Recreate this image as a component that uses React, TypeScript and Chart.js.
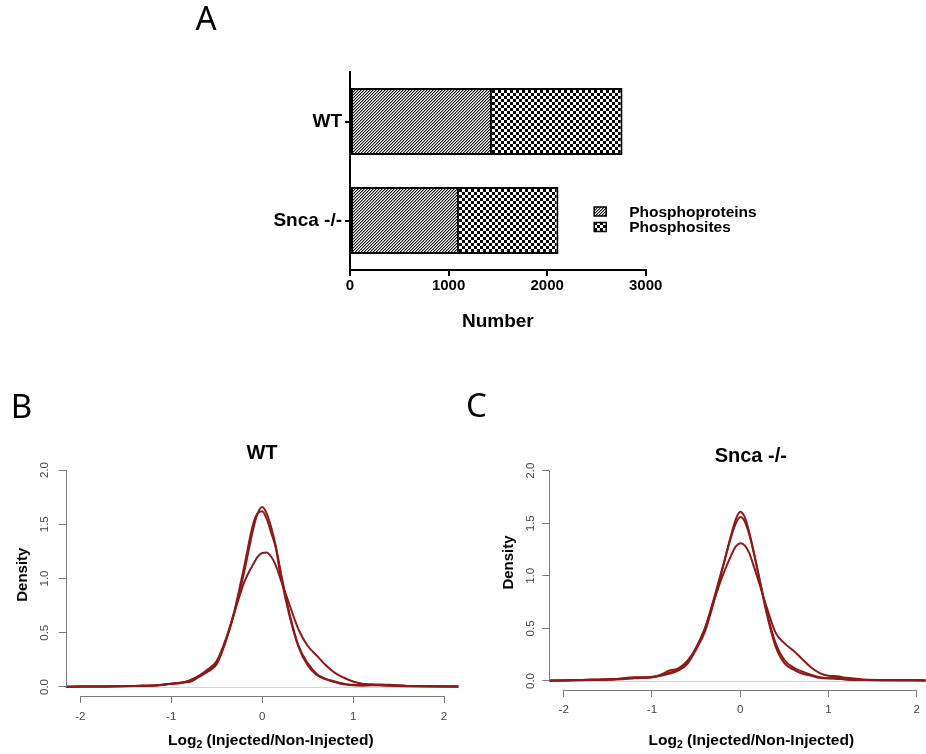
import React, { useEffect, useRef } from 'react';
import { Chart, registerables } from 'chart.js';
Chart.register(...registerables);

// ---------- Panel A data ----------
const GROUPS = ['WT', 'Snca -/-'];
const PHOSPHOPROTEINS = [1440, 1105];
const PHOSPHOSITES = [2765, 2115];
const BAR_X_TICKS = [0, 1000, 2000, 3000];
const LEGEND_LABELS = ['Phosphoproteins', 'Phosphosites'];

// ---------- Panel B (WT) density data ----------
const WT_X = [-2.16, -2.0, -1.8, -1.6, -1.4, -1.2, -1.1, -1.0, -0.9, -0.8, -0.7, -0.6, -0.5, -0.4, -0.3, -0.2, -0.1, -0.05, 0, 0.05, 0.1, 0.15, 0.2, 0.3, 0.4, 0.5, 0.6, 0.7, 0.8, 0.9, 1.0, 1.1, 1.2, 1.4, 1.6, 1.8, 2.0, 2.16];
const WT_REP1 = [0.003, 0.004, 0.004, 0.006, 0.01, 0.012, 0.018, 0.03, 0.04, 0.045, 0.09, 0.14, 0.21, 0.42, 0.7, 1.05, 1.45, 1.6, 1.66, 1.6, 1.47, 1.3, 1.08, 0.68, 0.38, 0.22, 0.12, 0.075, 0.05, 0.03, 0.015, 0.012, 0.015, 0.012, 0.008, 0.006, 0.005, 0.004];
const WT_REP2 = [0.003, 0.004, 0.005, 0.006, 0.01, 0.013, 0.02, 0.03, 0.04, 0.055, 0.1, 0.15, 0.22, 0.43, 0.72, 1.1, 1.5, 1.6, 1.62, 1.55, 1.42, 1.28, 1.04, 0.66, 0.37, 0.2, 0.11, 0.07, 0.045, 0.025, 0.02, 0.018, 0.02, 0.014, 0.009, 0.007, 0.005, 0.004];
const WT_REP3 = [0.003, 0.004, 0.005, 0.006, 0.01, 0.013, 0.02, 0.03, 0.035, 0.06, 0.1, 0.16, 0.24, 0.44, 0.7, 0.96, 1.13, 1.2, 1.235, 1.24, 1.2, 1.12, 1.0, 0.76, 0.53, 0.38, 0.29, 0.2, 0.13, 0.085, 0.05, 0.03, 0.025, 0.02, 0.01, 0.008, 0.006, 0.005];

// ---------- Panel C (Snca -/-) density data ----------
const KO_X = [-2.17, -2.0, -1.8, -1.6, -1.4, -1.2, -1.1, -1.0, -0.9, -0.8, -0.7, -0.6, -0.5, -0.4, -0.3, -0.2, -0.1, -0.05, 0, 0.05, 0.1, 0.15, 0.2, 0.3, 0.4, 0.5, 0.6, 0.7, 0.8, 0.9, 1.0, 1.1, 1.2, 1.4, 1.6, 1.8, 2.0, 2.2];
const KO_REP1 = [0.004, 0.005, 0.01, 0.012, 0.018, 0.03, 0.03, 0.035, 0.05, 0.07, 0.1, 0.16, 0.3, 0.47, 0.75, 1.07, 1.4, 1.54, 1.61, 1.56, 1.42, 1.24, 1.04, 0.64, 0.33, 0.17, 0.11, 0.07, 0.05, 0.03, 0.025, 0.03, 0.015, 0.01, 0.008, 0.008, 0.006, 0.005];
const KO_REP2 = [0.003, 0.004, 0.008, 0.01, 0.015, 0.025, 0.03, 0.035, 0.06, 0.1, 0.12, 0.19, 0.31, 0.5, 0.78, 1.08, 1.38, 1.5, 1.56, 1.52, 1.4, 1.23, 1.04, 0.66, 0.36, 0.2, 0.13, 0.09, 0.06, 0.035, 0.025, 0.02, 0.015, 0.01, 0.008, 0.006, 0.006, 0.005];
const KO_REP3 = [0.005, 0.006, 0.01, 0.015, 0.02, 0.035, 0.035, 0.04, 0.055, 0.08, 0.11, 0.18, 0.32, 0.5, 0.76, 1.0, 1.2, 1.28, 1.31, 1.29, 1.22, 1.1, 0.97, 0.7, 0.46, 0.36, 0.29, 0.21, 0.13, 0.075, 0.05, 0.045, 0.03, 0.015, 0.01, 0.008, 0.006, 0.005];

const DENS_X_TICKS = [-2, -1, 0, 1, 2];
const DENS_Y_TICKS = [0, 0.5, 1.0, 1.5, 2.0];

const SANS = '"Liberation Sans", Arial, Helvetica, sans-serif';
const LETTER_FONT = '400 33px "Noto Sans", "Open Sans", sans-serif';
const CURVE_COLOR = '#8B1A1A';
const AXIS_GRAY = '#7a7a7a';
const TICK_TEXT = '#444';

function makeHatch(ctx: CanvasRenderingContext2D) {
  const c = document.createElement('canvas');
  c.width = 3; c.height = 3;
  const g = c.getContext('2d')!;
  g.fillStyle = '#fff'; g.fillRect(0, 0, 3, 3);
  for (let y = 0; y < 3; y++) for (let x = 0; x < 3; x++) {
    const k = (x + y) % 3;
    if (k === 0) { g.fillStyle = '#1a1a1a'; g.fillRect(x, y, 1, 1); }
    else if (k === 1) { g.fillStyle = '#999'; g.fillRect(x, y, 1, 1); }
  }
  return ctx.createPattern(c, 'repeat')!;
}

function makeChecker(ctx: CanvasRenderingContext2D) {
  const c = document.createElement('canvas');
  c.width = 6; c.height = 6;
  const g = c.getContext('2d')!;
  g.fillStyle = '#fff'; g.fillRect(0, 0, 6, 6);
  g.fillStyle = '#000';
  g.fillRect(0, 0, 3, 3); g.fillRect(3, 3, 3, 3);
  return ctx.createPattern(c, 'repeat')!;
}

function drawRotated(ctx: CanvasRenderingContext2D, text: string, x: number, y: number, font: string) {
  ctx.save();
  ctx.translate(x, y);
  ctx.rotate(-Math.PI / 2);
  ctx.font = font;
  ctx.fillStyle = '#000';
  ctx.textAlign = 'center';
  ctx.textBaseline = 'middle';
  ctx.fillText(text, 0, 0);
  ctx.restore();
}

function drawLog2(ctx: CanvasRenderingContext2D, cx: number, cy: number) {
  const big = `bold 15.5px ${SANS}`;
  const small = `bold 10.5px ${SANS}`;
  const a = 'Log', b = '2', c = ' (Injected/Non-Injected)';
  ctx.save();
  ctx.fillStyle = '#000';
  ctx.textAlign = 'left';
  ctx.textBaseline = 'middle';
  ctx.font = big; const wa = ctx.measureText(a).width; const wc = ctx.measureText(c).width;
  ctx.font = small; const wb = ctx.measureText(b).width;
  let x = cx - (wa + wb + wc) / 2;
  ctx.font = big; ctx.fillText(a, x, cy); x += wa;
  ctx.font = small; ctx.fillText(b, x, cy + 4); x += wb;
  ctx.font = big; ctx.fillText(c, x, cy);
  ctx.restore();
}

function drawText(ctx: CanvasRenderingContext2D, text: string, x: number, y: number, font: string, align: CanvasTextAlign = 'center') {
  ctx.save();
  ctx.font = font;
  ctx.fillStyle = '#000';
  ctx.textAlign = align;
  ctx.textBaseline = 'middle';
  ctx.fillText(text, x, y);
  ctx.restore();
}

function BarPanel() {
  const ref = useRef<HTMLCanvasElement>(null);
  useEffect(() => {
    const canvas = ref.current!;
    const ctx = canvas.getContext('2d')!;
    const hatch = makeHatch(ctx);
    const checker = makeChecker(ctx);
    const fills = [hatch, checker];
    const annot = {
      id: 'annotA',
      afterDraw(chart: any) {
        const c = chart.ctx as CanvasRenderingContext2D;
        const ca = chart.chartArea;
        drawText(c, 'A', 206, 21, LETTER_FONT);
        drawText(c, 'Number', (ca.left + ca.right) / 2, 322, `bold 19px ${SANS}`);
        // legend
        const bx = ca.right - 51.5;
        const rows = [207, 222.5];
        LEGEND_LABELS.forEach((lab, i) => {
          c.save();
          c.fillStyle = fills[i];
          c.fillRect(bx, rows[i], 12, 9);
          c.strokeStyle = '#000';
          c.lineWidth = 1.5;
          c.strokeRect(bx, rows[i], 12, 9);
          c.restore();
          drawText(c, lab, bx + 35, rows[i] + 5.5, `bold 15.5px ${SANS}`, 'left');
        });
      },
    };
    const chart = new Chart(canvas, {
      type: 'bar',
      data: {
        labels: GROUPS,
        datasets: [
          { label: LEGEND_LABELS[0], data: PHOSPHOPROTEINS, backgroundColor: hatch, borderColor: '#000', borderWidth: 2, borderSkipped: false, barPercentage: 0.675, categoryPercentage: 1, grouped: false } as any,
          { label: LEGEND_LABELS[1], data: PHOSPHOSITES, backgroundColor: checker, borderColor: '#000', borderWidth: 2, borderSkipped: false, barPercentage: 0.675, categoryPercentage: 1, grouped: false } as any,
        ],
      },
      options: {
        indexAxis: 'y',
        responsive: false,
        animation: false,
        events: [],
        layout: { padding: { left: 250, right: 280.3, top: 72, bottom: 0 }, autoPadding: false },
        plugins: { legend: { display: false }, tooltip: { enabled: false }, title: { display: false } },
        scales: {
          x: {
            type: 'linear', min: 0, max: 3000,
            afterBuildTicks: (s: any) => { s.ticks = BAR_X_TICKS.map((v) => ({ value: v })); },
            afterFit: (s: any) => { s.height = 110; },
            grid: { drawOnChartArea: false, drawTicks: true, tickLength: 6, color: '#000', lineWidth: 2 },
            border: { display: true, color: '#000', width: 2 },
            ticks: { font: { family: SANS, size: 15, weight: 'bold' }, color: '#000', padding: 1, maxRotation: 0, callback: (v: any) => String(v) },
          },
          y: {
            type: 'category',
            afterFit: (s: any) => { s.width = 100; },
            grid: { offset: false, drawOnChartArea: false, drawTicks: true, tickLength: 5, color: '#000', lineWidth: 2 },
            border: { display: true, color: '#000', width: 2 },
            ticks: { font: { family: SANS, size: 19, weight: 'bold' }, color: '#000', padding: 3 },
          },
        },
      } as any,
      plugins: [annot],
    });
    return () => chart.destroy();
  }, []);
  return <canvas ref={ref} width={926} height={380} style={{ position: 'absolute', left: 0, top: 0, width: 926, height: 380 }} />;
}

type DensProps = {
  left: number; width: number;
  xs: number[]; series: number[][];
  xMin: number; xMax: number; yMin: number;
  padTop: number; padRight: number; yWidth: number; xHeight: number;
  yTickPad: number; xTickPad: number;
  letter: string; letterX: number; letterY: number;
  title: string; titleX: number; titleY: number;
  yTitleX: number; yTitleY: number;
  xTitleX: number; xTitleY: number;
};

function DensityPanel(p: DensProps) {
  const ref = useRef<HTMLCanvasElement>(null);
  useEffect(() => {
    const canvas = ref.current!;
    const annot = {
      id: 'annotDens',
      beforeDatasetsDraw(chart: any) {
        const c = chart.ctx as CanvasRenderingContext2D;
        const ca = chart.chartArea;
        const y0 = Math.round(chart.scales.y.getPixelForValue(0)) + 0.5;
        c.save();
        c.strokeStyle = '#d4d4d4';
        c.lineWidth = 1;
        c.beginPath(); c.moveTo(ca.left, y0); c.lineTo(ca.right, y0); c.stroke();
        c.restore();
      },
      afterDraw(chart: any) {
        const c = chart.ctx as CanvasRenderingContext2D;
        const ca = chart.chartArea;
        const xs = chart.scales.x, ys = chart.scales.y;
        c.save();
        c.strokeStyle = AXIS_GRAY;
        c.lineWidth = 1;
        const ax = Math.round(ca.left) + 0.5;
        c.beginPath();
        c.moveTo(ax, ys.getPixelForValue(DENS_Y_TICKS[0]));
        c.lineTo(ax, ys.getPixelForValue(DENS_Y_TICKS[DENS_Y_TICKS.length - 1]));
        c.stroke();
        const ay = Math.round(ca.bottom) + 0.5;
        c.beginPath();
        c.moveTo(xs.getPixelForValue(DENS_X_TICKS[0]), ay);
        c.lineTo(xs.getPixelForValue(DENS_X_TICKS[DENS_X_TICKS.length - 1]), ay);
        c.stroke();
        c.restore();
        drawText(c, p.letter, p.letterX, p.letterY, LETTER_FONT);
        drawText(c, p.title, p.titleX, p.titleY, `bold 20px ${SANS}`);
        drawRotated(c, 'Density', p.yTitleX, p.yTitleY, `bold 15px ${SANS}`);
        drawLog2(c, p.xTitleX, p.xTitleY);
      },
    };
    const chart = new Chart(canvas, {
      type: 'line',
      data: {
        datasets: p.series.map((ys, i) => ({
          label: `rep${i + 1}`,
          data: p.xs.map((x, j) => ({ x, y: ys[j] })),
          borderColor: CURVE_COLOR,
          borderWidth: 2,
          pointRadius: 0,
          fill: false,
          cubicInterpolationMode: 'monotone',
        })),
      },
      options: {
        responsive: false,
        animation: false,
        events: [],
        layout: { padding: { left: 0, right: p.padRight, top: p.padTop, bottom: 0 }, autoPadding: false },
        plugins: { legend: { display: false }, tooltip: { enabled: false }, title: { display: false } },
        scales: {
          x: {
            type: 'linear', min: p.xMin, max: p.xMax,
            afterBuildTicks: (s: any) => { s.ticks = DENS_X_TICKS.map((v) => ({ value: v })); },
            afterFit: (s: any) => { s.height = p.xHeight; },
            grid: { drawOnChartArea: false, drawTicks: true, tickLength: 7, color: AXIS_GRAY, lineWidth: 1 },
            border: { display: false },
            ticks: { font: { family: SANS, size: 11.5 }, color: TICK_TEXT, padding: p.xTickPad, maxRotation: 0, callback: (v: any) => String(v) },
          },
          y: {
            type: 'linear', min: p.yMin, max: 2.0,
            afterBuildTicks: (s: any) => { s.ticks = DENS_Y_TICKS.map((v) => ({ value: v })); },
            afterFit: (s: any) => { s.width = p.yWidth; },
            grid: { drawOnChartArea: false, drawTicks: true, tickLength: 7, color: AXIS_GRAY, lineWidth: 1 },
            border: { display: false },
            ticks: { font: { family: SANS, size: 11.5 }, color: TICK_TEXT, padding: p.yTickPad, minRotation: 90, maxRotation: 90, crossAlign: 'center', callback: (v: any) => Number(v).toFixed(1) },
          },
        },
      } as any,
      plugins: [annot],
    });
    return () => chart.destroy();
  }, []);
  return <canvas ref={ref} width={p.width} height={374} style={{ position: 'absolute', left: p.left, top: 380, width: p.width, height: 374 }} />;
}

export default function App() {
  return (
    <div style={{ position: 'absolute', left: 0, top: 0, width: 926, height: 754, overflow: 'hidden', background: '#fff' }}>
      <BarPanel />
      <DensityPanel
        left={0} width={470}
        xs={WT_X} series={[WT_REP1, WT_REP2, WT_REP3]}
        xMin={-2.16} xMax={2.16} yMin={-0.083}
        padTop={90} padRight={11.4} yWidth={65.7} xHeight={58}
        yTickPad={6} xTickPad={7}
        letter="B" letterX={21.5} letterY={28.7}
        title="WT" titleX={262} titleY={73.3}
        yTitleX={22.7} yTitleY={194.7}
        xTitleX={270.8} xTitleY={360.7}
      />
      <DensityPanel
        left={460} width={466}
        xs={KO_X} series={[KO_REP1, KO_REP2, KO_REP3]}
        xMin={-2.163} xMax={2.098} yMin={-0.0856}
        padTop={90.7} padRight={0} yWidth={89.3} xHeight={64}
        yTickPad={3.8} xTickPad={6}
        letter="C" letterX={16.5} letterY={28}
        title="Snca -/-" titleX={290.8} titleY={76.7}
        yTitleX={49.3} yTitleY={182.5}
        xTitleX={291.3} xTitleY={360.7}
      />
    </div>
  );
}
